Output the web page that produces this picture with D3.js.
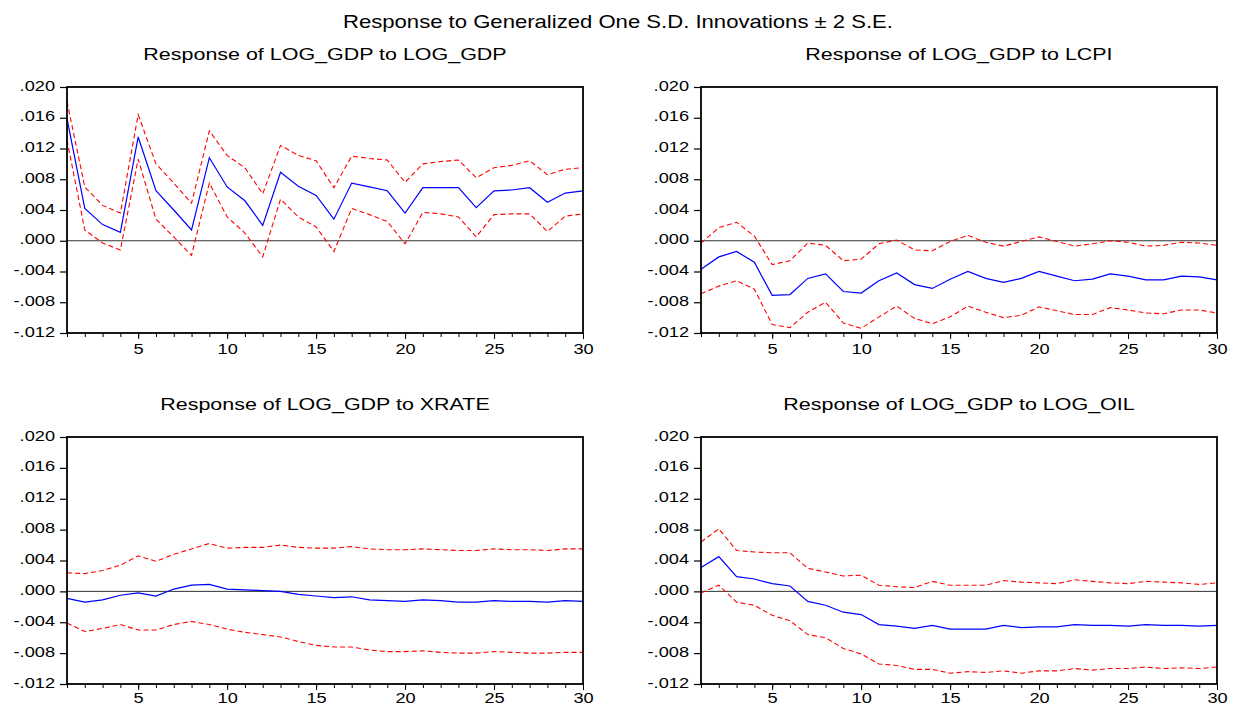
<!DOCTYPE html>
<html>
<head>
<meta charset="utf-8">
<script src="https://cdn.jsdelivr.net/npm/d3@7/dist/d3.min.js"></script>
<style>
  html, body { margin: 0; padding: 0; background: #fff; }
  svg { display: block; }
  text { font-family: "Liberation Sans", Arial, sans-serif; fill: #000; }
</style>
</head>
<body>
<svg id="chart" width="1235" height="706"></svg>
<script>
// ---------- DATA ----------
const periods = d3.range(1, 31);

const mainTitle = "Response to Generalized One S.D. Innovations \u00b1 2 S.E.";
const panelTitles = [
  "Response of LOG_GDP to LOG_GDP",
  "Response of LOG_GDP to LCPI",
  "Response of LOG_GDP to XRATE",
  "Response of LOG_GDP to LOG_OIL"
];

const yTickValues = [0.020, 0.016, 0.012, 0.008, 0.004, 0.000, -0.004, -0.008, -0.012];
const yTickLabels = [".020", ".016", ".012", ".008", ".004", ".000", "-.004", "-.008", "-.012"];
const xTickValues = [5, 10, 15, 20, 25, 30];
const xTickLabels = ["5", "10", "15", "20", "25", "30"];

// Response of LOG_GDP to LOG_GDP
const gdpResp = [0.0159,0.0042,0.0021,0.0011,0.0135,0.0065,0.0040,0.0014,0.0108,0.0070,0.0052,0.0020,0.0089,0.0071,0.0059,0.0028,0.0075,0.0070,0.0065,0.0036,0.0069,0.0069,0.0069,0.0043,0.0065,0.0066,0.0069,0.0050,0.0062,0.0065];
const gdpUpper = [0.0181,0.0070,0.0046,0.0036,0.0164,0.0100,0.0075,0.0049,0.0143,0.0111,0.0095,0.0061,0.0124,0.0111,0.0104,0.0069,0.0110,0.0107,0.0105,0.0076,0.0100,0.0103,0.0105,0.0082,0.0095,0.0098,0.0104,0.0086,0.0093,0.0095];
const gdpLower = [0.0131,0.0014,-0.0003,-0.0012,0.0106,0.0028,0.0005,-0.0019,0.0075,0.0031,0.0010,-0.0021,0.0054,0.0031,0.0018,-0.0014,0.0042,0.0034,0.0025,-0.0004,0.0037,0.0035,0.0031,0.0005,0.0034,0.0035,0.0035,0.0012,0.0032,0.0035];

// Response of LOG_GDP to LCPI
const lcpiResp = [-0.0037,-0.0021,-0.0014,-0.0028,-0.0071,-0.0070,-0.0049,-0.0043,-0.0066,-0.0068,-0.0052,-0.0042,-0.0057,-0.0062,-0.0050,-0.0040,-0.0049,-0.0054,-0.0049,-0.0040,-0.0046,-0.0052,-0.0050,-0.0043,-0.0046,-0.0051,-0.0051,-0.0046,-0.0047,-0.0051];
const lcpiUpper = [-0.0003,0.0017,0.0024,0.0006,-0.0031,-0.0026,-0.0003,-0.0006,-0.0026,-0.0024,-0.0004,0.0001,-0.0012,-0.0013,-0.0001,0.0007,-0.0002,-0.0007,-0.0001,0.0005,-0.0001,-0.0007,-0.0004,0.0000,-0.0002,-0.0007,-0.0006,-0.0002,-0.0003,-0.0006];
const lcpiLower = [-0.0069,-0.0059,-0.0052,-0.0063,-0.0109,-0.0113,-0.0093,-0.0080,-0.0107,-0.0114,-0.0099,-0.0085,-0.0101,-0.0108,-0.0099,-0.0085,-0.0093,-0.0100,-0.0097,-0.0086,-0.0091,-0.0096,-0.0096,-0.0087,-0.0090,-0.0094,-0.0095,-0.0090,-0.0090,-0.0094];

// Response of LOG_GDP to XRATE
const xrateResp = [-0.0009,-0.0014,-0.0011,-0.0005,-0.0002,-0.0006,0.0003,0.0008,0.0009,0.0003,0.0002,0.0001,0.0000,-0.0004,-0.0006,-0.0008,-0.0007,-0.0011,-0.0012,-0.0013,-0.0011,-0.0012,-0.0014,-0.0014,-0.0012,-0.0013,-0.0013,-0.0014,-0.0012,-0.0013];
const xrateUpper = [0.0024,0.0023,0.0027,0.0034,0.0046,0.0039,0.0048,0.0055,0.0062,0.0056,0.0057,0.0057,0.0060,0.0057,0.0056,0.0056,0.0058,0.0055,0.0054,0.0054,0.0055,0.0054,0.0053,0.0053,0.0055,0.0054,0.0054,0.0053,0.0055,0.0055];
const xrateLower = [-0.0041,-0.0052,-0.0048,-0.0043,-0.0050,-0.0050,-0.0043,-0.0039,-0.0043,-0.0049,-0.0053,-0.0056,-0.0059,-0.0065,-0.0070,-0.0072,-0.0072,-0.0076,-0.0078,-0.0078,-0.0077,-0.0079,-0.0080,-0.0080,-0.0078,-0.0079,-0.0080,-0.0080,-0.0079,-0.0079];

// Response of LOG_GDP to LOG_OIL
const oilResp = [0.0031,0.0045,0.0019,0.0016,0.0010,0.0007,-0.0013,-0.0018,-0.0027,-0.0030,-0.0043,-0.0045,-0.0048,-0.0044,-0.0049,-0.0049,-0.0049,-0.0044,-0.0047,-0.0046,-0.0046,-0.0043,-0.0044,-0.0044,-0.0045,-0.0043,-0.0044,-0.0044,-0.0045,-0.0044];
const oilUpper = [0.0064,0.0081,0.0053,0.0051,0.0050,0.0050,0.0030,0.0025,0.0020,0.0021,0.0008,0.0006,0.0005,0.0013,0.0008,0.0008,0.0008,0.0014,0.0012,0.0011,0.0010,0.0015,0.0013,0.0011,0.0010,0.0013,0.0012,0.0011,0.0009,0.0011];
const oilLower = [-0.0002,0.0008,-0.0014,-0.0018,-0.0031,-0.0038,-0.0056,-0.0060,-0.0074,-0.0081,-0.0094,-0.0096,-0.0101,-0.0101,-0.0106,-0.0104,-0.0105,-0.0103,-0.0106,-0.0103,-0.0103,-0.0100,-0.0102,-0.0100,-0.0100,-0.0098,-0.0100,-0.0099,-0.0100,-0.0098];

// ---------- LAYOUT ----------
const svg = d3.select("#chart");
const STRETCH = 1.3;          // horizontal text widening seen in the reference
const cols = [{l: 67, r: 583}, {l: 701, r: 1217}];
const rows = [{t: 87, b: 333, lab: 10}, {t: 437, b: 684, lab: 7.5}];

const panels = [
  {title: panelTitles[0], resp: gdpResp,   up: gdpUpper,   lo: gdpLower,   c: 0, r: 0},
  {title: panelTitles[1], resp: lcpiResp,  up: lcpiUpper,  lo: lcpiLower,  c: 1, r: 0},
  {title: panelTitles[2], resp: xrateResp, up: xrateUpper, lo: xrateLower, c: 0, r: 1},
  {title: panelTitles[3], resp: oilResp,   up: oilUpper,   lo: oilLower,   c: 1, r: 1}
];

function stretchText(sel, k) {
  sel.each(function () {
    const w = this.getComputedTextLength();
    d3.select(this).attr("textLength", w * k).attr("lengthAdjust", "spacingAndGlyphs");
  });
}

// main title
svg.append("text")
  .attr("x", 618).attr("y", 27.5)
  .attr("text-anchor", "middle")
  .style("font-size", "18.5px")
  .attr("textLength", 550).attr("lengthAdjust", "spacingAndGlyphs")
  .text(mainTitle);

panels.forEach(p => {
  const L = cols[p.c].l, R = cols[p.c].r, T = rows[p.r].t, B = rows[p.r].b;
  const x = d3.scaleLinear().domain([1, 30]).range([L, R]);
  const y = d3.scaleLinear().domain([-0.012, 0.020]).range([B, T]);
  const g = svg.append("g");

  // subplot title
  const tt = g.append("text")
    .attr("x", (L + R) / 2).attr("y", T - 27)
    .attr("text-anchor", "middle")
    .style("font-size", "16.5px")
    .text(p.title);
  stretchText(tt, STRETCH);

  // zero line
  g.append("line")
    .attr("x1", x(1)).attr("x2", x(30))
    .attr("y1", y(0)).attr("y2", y(0))
    .attr("stroke", "#333").attr("stroke-width", 1);

  const line = d3.line().x((d, i) => x(periods[i])).y(d => y(d));

  g.append("path").datum(p.up).attr("d", line)
    .attr("fill", "none").attr("stroke", "#ff0000").attr("stroke-width", 1.1)
    .attr("stroke-dasharray", "5,3");
  g.append("path").datum(p.lo).attr("d", line)
    .attr("fill", "none").attr("stroke", "#ff0000").attr("stroke-width", 1.1)
    .attr("stroke-dasharray", "5,3");
  g.append("path").datum(p.resp).attr("d", line)
    .attr("fill", "none").attr("stroke", "#0000ff").attr("stroke-width", 1.2);

  // frame
  g.append("rect")
    .attr("x", L).attr("y", T).attr("width", R - L).attr("height", B - T)
    .attr("fill", "none").attr("stroke", "#000").attr("stroke-width", 1.8);

  // y axis
  const yAxis = d3.axisLeft(y)
    .tickValues(yTickValues)
    .tickSize(7)
    .tickPadding(5)
    .tickFormat((d, i) => yTickLabels[i]);
  const ya = g.append("g").attr("transform", `translate(${L},0)`).call(yAxis);
  ya.select(".domain").remove();
  ya.selectAll(".tick line").attr("stroke", "#000").attr("stroke-width", 1.2);
  ya.selectAll(".tick text")
    .style("font-size", "14px")
    .attr("font-family", null)
    .attr("dy", "0.22em");
  stretchText(ya.selectAll(".tick text"), STRETCH);

  // x axis: minor ticks at every period
  const xMinor = d3.axisBottom(x).tickValues(periods).tickSize(4).tickFormat("");
  const xm = g.append("g").attr("transform", `translate(0,${B})`).call(xMinor);
  xm.select(".domain").remove();
  xm.selectAll(".tick line").attr("stroke", "#000").attr("stroke-width", 1);

  const xAxis = d3.axisBottom(x)
    .tickValues(xTickValues)
    .tickSize(6)
    .tickPadding(5)
    .tickFormat((d, i) => xTickLabels[i]);
  const xa = g.append("g").attr("transform", `translate(0,${B})`).call(xAxis);
  xa.select(".domain").remove();
  xa.selectAll(".tick line").attr("stroke", "#000").attr("stroke-width", 1);
  xa.selectAll(".tick text")
    .style("font-size", "14px")
    .attr("font-family", null)
    .attr("y", rows[p.r].lab).attr("dy", "0.8em");
  stretchText(xa.selectAll(".tick text"), STRETCH);
});
</script>
</body>
</html>
